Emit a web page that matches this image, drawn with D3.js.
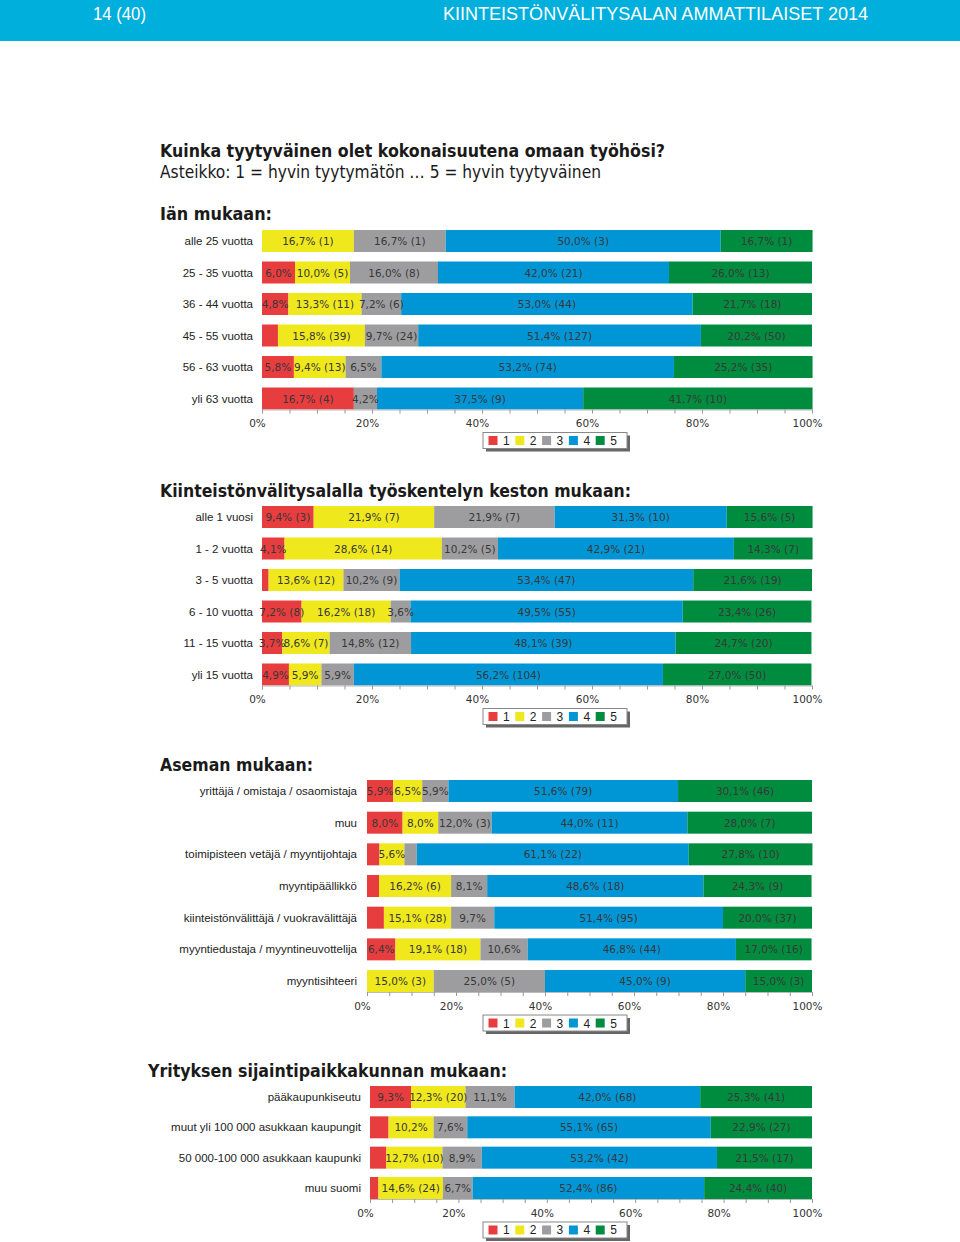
<!DOCTYPE html>
<html>
<head>
<meta charset="utf-8">
<script src="https://cdn.jsdelivr.net/npm/d3@7"></script>
<style>
  html, body { margin: 0; padding: 0; background: #fff; }
  svg { display: block; }
</style>
</head>
<body>
<svg id="chart" width="960" height="1242"></svg>
<script>
// ---------------- DATA ----------------
const seriesKeys = ["1", "2", "3", "4", "5"];
const axisTicks = [0, 20, 40, 60, 80, 100];

const ageCategories = ["alle 25 vuotta", "25 - 35 vuotta", "36 - 44 vuotta", "45 - 55 vuotta", "56 - 63 vuotta", "yli 63 vuotta"];
const ageValues = [
  [0, 16.7, 16.7, 50.0, 16.7],
  [6.0, 10.0, 16.0, 42.0, 26.0],
  [4.8, 13.3, 7.2, 53.0, 21.7],
  [2.9, 15.8, 9.7, 51.4, 20.2],
  [5.8, 9.4, 6.5, 53.2, 25.2],
  [16.7, 0, 4.2, 37.5, 41.7]
];
const ageCounts = [
  [null, 1, 1, 3, 1],
  [null, 5, 8, 21, 13],
  [null, 11, 6, 44, 18],
  [null, 39, 24, 127, 50],
  [null, 13, null, 74, 35],
  [4, null, null, 9, 10]
];

const durationCategories = ["alle 1 vuosi", "1 - 2 vuotta", "3 - 5 vuotta", "6 - 10 vuotta", "11 - 15 vuotta", "yli 15 vuotta"];
const durationValues = [
  [9.4, 21.9, 21.9, 31.3, 15.6],
  [4.1, 28.6, 10.2, 42.9, 14.3],
  [1.2, 13.6, 10.2, 53.4, 21.6],
  [7.2, 16.2, 3.6, 49.5, 23.4],
  [3.7, 8.6, 14.8, 48.1, 24.7],
  [4.9, 5.9, 5.9, 56.2, 27.0]
];
const durationCounts = [
  [3, 7, 7, 10, 5],
  [null, 14, 5, 21, 7],
  [null, 12, 9, 47, 19],
  [8, 18, null, 55, 26],
  [null, 7, 12, 39, 20],
  [null, null, null, 104, 50]
];

const positionCategories = ["yrittäjä / omistaja / osaomistaja", "muu", "toimipisteen vetäjä / myyntijohtaja", "myyntipäällikkö", "kiinteistönvälittäjä / vuokravälittäjä", "myyntiedustaja / myyntineuvottelija", "myyntisihteeri"];
const positionValues = [
  [5.9, 6.5, 5.9, 51.6, 30.1],
  [8.0, 8.0, 12.0, 44.0, 28.0],
  [2.8, 5.6, 2.8, 61.1, 27.8],
  [2.7, 16.2, 8.1, 48.6, 24.3],
  [3.8, 15.1, 9.7, 51.4, 20.0],
  [6.4, 19.1, 10.6, 46.8, 17.0],
  [0, 15.0, 25.0, 45.0, 15.0]
];
const positionCounts = [
  [null, null, null, 79, 46],
  [null, null, 3, 11, 7],
  [null, null, null, 22, 10],
  [null, 6, null, 18, 9],
  [null, 28, null, 95, 37],
  [null, 18, null, 44, 16],
  [null, 3, 5, 9, 3]
];

const locationCategories = ["pääkaupunkiseutu", "muut yli 100 000 asukkaan kaupungit", "50 000-100 000 asukkaan kaupunki", "muu suomi"];
const locationValues = [
  [9.3, 12.3, 11.1, 42.0, 25.3],
  [4.2, 10.2, 7.6, 55.1, 22.9],
  [3.7, 12.7, 8.9, 53.2, 21.5],
  [1.9, 14.6, 6.7, 52.4, 24.4]
];
const locationCounts = [
  [null, 20, null, 68, 41],
  [null, null, null, 65, 27],
  [null, 10, null, 42, 17],
  [null, 24, null, 86, 40]
];

// ---------------- STYLE ----------------
const colors = ["#e83d3f", "#efe81c", "#9d9d9f", "#0096d6", "#008c3f"];
const color = d3.scaleOrdinal().domain(seriesKeys).range(colors);

const svg = d3.select("#chart");

// Header band
svg.append("rect").attr("x", 0).attr("y", 0).attr("width", 960).attr("height", 41).attr("fill", "#00afdb");
svg.append("text").attr("x", 93).attr("y", 20)
  .attr("font-family", "Liberation Sans, Arial, sans-serif").attr("font-size", 18)
  .attr("fill", "#fff").attr("textLength", 53).attr("lengthAdjust", "spacingAndGlyphs")
  .text("14 (40)");
svg.append("text").attr("x", 443).attr("y", 20)
  .attr("font-family", "Liberation Sans, Arial, sans-serif").attr("font-size", 18)
  .attr("fill", "#fff").attr("textLength", 425).attr("lengthAdjust", "spacingAndGlyphs")
  .text("KIINTEISTÖNVÄLITYSALAN AMMATTILAISET 2014");

function heading(x, y, txt, len, bold, size) {
  svg.append("text").attr("x", x).attr("y", y)
    .attr("font-family", "DejaVu Sans Condensed, DejaVu Sans, sans-serif")
    .attr("font-stretch", "condensed")
    .attr("font-size", size)
    .attr("font-weight", bold ? "bold" : "normal")
    .attr("fill", "#1a1a1a")
    .attr("textLength", len).attr("lengthAdjust", "spacingAndGlyphs")
    .text(txt);
}
heading(160, 157, "Kuinka tyytyväinen olet kokonaisuutena omaan työhösi?", 505, true, 18);
heading(160, 178, "Asteikko: 1 = hyvin tyytymätön … 5 = hyvin tyytyväinen", 441, false, 17);
heading(160, 220, "Iän mukaan:", 112, true, 17);
heading(160, 497, "Kiinteistönvälitysalalla työskentelyn keston mukaan:", 471, true, 17);
heading(160, 771, "Aseman mukaan:", 153, true, 17);
heading(148, 1077, "Yrityksen sijaintipaikkakunnan mukaan:", 359, true, 17);

const fmt = v => v.toFixed(1).replace(".", ",") + "%";

function drawChart(categories, values, counts, L) {
  const g = svg.append("g");
  const n = categories.length;
  const top = L.firstCenter - L.step / 2;
  const x = d3.scaleLinear().domain([0, 100]).range([L.x0, L.x1]);
  const pad = 1 - L.barH / L.step;
  const y = d3.scaleBand().domain(categories).range([top, top + n * L.step])
    .paddingInner(pad).paddingOuter(pad / 2);

  const rows = categories.map((c, i) => {
    const o = { cat: c, idx: i };
    seriesKeys.forEach((k, j) => { o[k] = values[i][j]; });
    return o;
  });
  const stacked = d3.stack().keys(seriesKeys)(rows);

  const layers = g.selectAll("g.layer").data(stacked).join("g")
    .attr("class", "layer").attr("fill", d => color(d.key));
  layers.selectAll("rect").data(d => d).join("rect")
    .attr("x", d => x(d[0]))
    .attr("y", d => y(d.data.cat))
    .attr("width", d => Math.max(0, x(d[1]) - x(d[0])))
    .attr("height", y.bandwidth());

  // Segment labels
  stacked.forEach((layer, j) => {
    layer.forEach(d => {
      const w = x(d[1]) - x(d[0]);
      if (w < 19) return;
      const v = values[d.data.idx][j];
      const c = counts[d.data.idx][j];
      g.append("text")
        .attr("x", (x(d[0]) + x(d[1])) / 2)
        .attr("y", y(d.data.cat) + y.bandwidth() / 2 + 4)
        .attr("text-anchor", "middle")
        .attr("font-family", "DejaVu Sans, Verdana, sans-serif")
        .attr("font-size", 10.5)
        .attr("fill", "#383838")
        .text(fmt(v) + (c != null ? " (" + c + ")" : ""));
    });
  });

  // Category labels
  g.selectAll("text.cat").data(categories).join("text")
    .attr("class", "cat")
    .attr("x", L.x0 - L.labelGap)
    .attr("y", d => y(d) + y.bandwidth() / 2 + 4)
    .attr("text-anchor", "end")
    .attr("font-family", "Liberation Sans, Arial, sans-serif")
    .attr("font-size", 11.5)
    .attr("fill", "#222")
    .text(d => d);

  // Axis
  const axisY = y(categories[n - 1]) + y.bandwidth();
  const ax = g.append("g").attr("transform", `translate(0,${axisY})`)
    .call(d3.axisBottom(x).tickValues(d3.range(0, 101, 5)).tickSize(4).tickSizeOuter(0)
      .tickPadding(6.5)
      .tickFormat(d => axisTicks.includes(d) ? d + "%" : ""));
  ax.select(".domain").attr("stroke", "#bbb");
  ax.selectAll(".tick line").attr("stroke", "#999");
  ax.selectAll(".tick text")
    .attr("dx", -5)
    .attr("font-family", "DejaVu Sans, Verdana, sans-serif")
    .attr("font-size", 10.5)
    .attr("fill", "#333");

  // Legend
  const ly = axisY + 23;
  const lx = 483, lw = 144, lh = 16;
  const lg = g.append("g").attr("transform", `translate(${lx},${ly})`);
  lg.append("rect").attr("x", 3).attr("y", 3).attr("width", lw).attr("height", lh).attr("fill", "#666");
  lg.append("rect").attr("x", 0).attr("y", 0).attr("width", lw).attr("height", lh)
    .attr("fill", "#fff").attr("stroke", "#888").attr("stroke-width", 1);
  const items = lg.selectAll("g.item").data(seriesKeys).join("g")
    .attr("class", "item")
    .attr("transform", (d, i) => `translate(${5.5 + i * 26.8},0)`);
  items.append("rect").attr("x", 0).attr("y", 3.5).attr("width", 9).attr("height", 9)
    .attr("fill", d => color(d));
  items.append("text").attr("x", 14.5).attr("y", 12.5)
    .attr("font-family", "Liberation Sans, Arial, sans-serif").attr("font-size", 12)
    .attr("fill", "#222").text(d => d);
}

drawChart(ageCategories, ageValues, ageCounts,
  { x0: 262, x1: 812, firstCenter: 241, step: 31.5, barH: 22, labelGap: 9 });
drawChart(durationCategories, durationValues, durationCounts,
  { x0: 262, x1: 812, firstCenter: 517, step: 31.5, barH: 22, labelGap: 9 });
drawChart(positionCategories, positionValues, positionCounts,
  { x0: 367, x1: 812, firstCenter: 791, step: 31.67, barH: 22, labelGap: 10 });
drawChart(locationCategories, locationValues, locationCounts,
  { x0: 370, x1: 812, firstCenter: 1097, step: 30.33, barH: 22, labelGap: 9 });
</script>
</body>
</html>
